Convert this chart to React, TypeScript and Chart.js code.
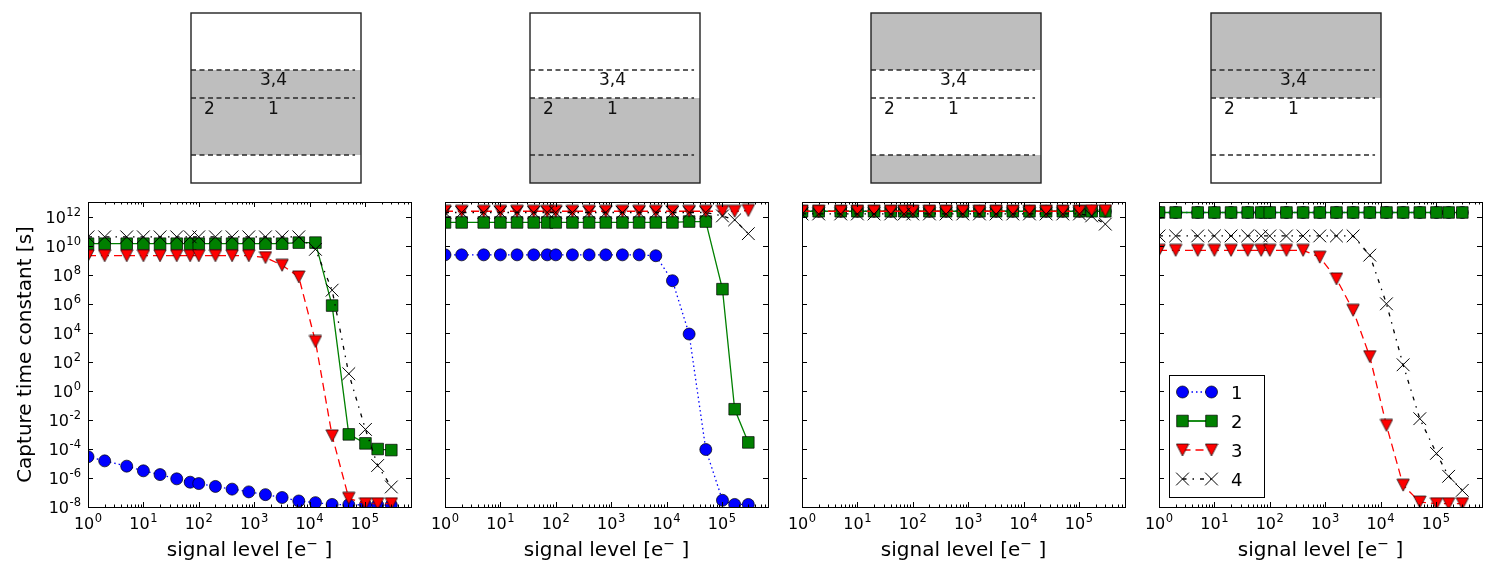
import { useEffect, useRef } from 'react';
import { Chart, registerables } from 'chart.js';
import { drawPoint } from 'chart.js/helpers';

Chart.register(...registerables);

// signal level in electrons
const signal = [1, 2, 5, 10, 20, 40, 70, 100, 200, 400, 800, 1600, 3200, 6400, 12800, 25600, 51200, 102400, 170000, 300000];

// capture time constants [s], panel A
const trap1A = [2.9e-5, 1.5e-5, 6.5e-6, 3.1e-6, 1.7e-6, 8.7e-7, 5.1e-7, 4.1e-7, 2.6e-7, 1.7e-7, 1.1e-7, 7.1e-8, 4.5e-8, 2.6e-8, 2.0e-8, 1.5e-8, 1.45e-8, 1.4e-8, 1.38e-8, 1.35e-8];
const trap2A = [1.35e10, 1.35e10, 1.35e10, 1.35e10, 1.35e10, 1.35e10, 1.35e10, 1.35e10, 1.35e10, 1.35e10, 1.35e10, 1.35e10, 1.35e10, 1.6e10, 1.6e10, 7.4e5, 1e-3, 2.4e-4, 9.8e-5, 8.3e-5];
const trap3A = [2e9, 2e9, 2e9, 2e9, 2e9, 2e9, 2e9, 2e9, 2e9, 2e9, 2e9, 1.5e9, 4.4e8, 7e7, 2.5e3, 8e-4, 4e-8, 1.7e-8, 1.7e-8, 1.7e-8];
const trap4A = [4e10, 4e10, 4e10, 4e10, 4e10, 4e10, 4e10, 4e10, 4e10, 4e10, 4e10, 4e10, 4e10, 4e10, 5.5e9, 8.5e6, 15, 2.2e-3, 7.2e-6, 2.4e-7];

// panel B
const trap1B = [2.3e9, 2.3e9, 2.3e9, 2.3e9, 2.3e9, 2.3e9, 2.3e9, 2.3e9, 2.3e9, 2.3e9, 2.3e9, 2.3e9, 2.3e9, 2e9, 3.8e7, 8.1e3, 9.1e-5, 2.9e-8, 1.5e-8, 1.5e-8];
const trap2B = [3.9e11, 3.9e11, 3.9e11, 3.9e11, 3.9e11, 3.9e11, 3.9e11, 3.9e11, 3.9e11, 3.9e11, 3.9e11, 3.9e11, 3.9e11, 3.9e11, 3.9e11, 4.5e11, 4.5e11, 1e7, 5.4e-2, 2.8e-4];
const trap3B = [2.3e12, 2.3e12, 2.3e12, 2.3e12, 2.3e12, 2.3e12, 2.3e12, 2.3e12, 2.3e12, 2.3e12, 2.3e12, 2.3e12, 2.3e12, 2.3e12, 2.3e12, 2.3e12, 2.3e12, 2.3e12, 2.3e12, 2.6e12];
const trap4B = [1.9e12, 1.9e12, 1.9e12, 1.9e12, 1.9e12, 1.9e12, 1.9e12, 1.9e12, 1.9e12, 1.9e12, 1.9e12, 1.9e12, 1.9e12, 1.9e12, 1.9e12, 1.9e12, 1.9e12, 1.1e12, 5.9e11, 6.6e10];

// panel C
const trap1C = [2.3e12, 2.3e12, 2.3e12, 2.3e12, 2.3e12, 2.3e12, 2.3e12, 2.3e12, 2.3e12, 2.3e12, 2.3e12, 2.3e12, 2.3e12, 2.3e12, 2.3e12, 2.3e12, 2.3e12, 2.3e12, 2.3e12, 2.3e12];
const trap2C = [2.3e12, 2.3e12, 2.3e12, 2.3e12, 2.3e12, 2.3e12, 2.3e12, 2.3e12, 2.3e12, 2.3e12, 2.3e12, 2.3e12, 2.3e12, 2.3e12, 2.3e12, 2.3e12, 2.3e12, 2.3e12, 2.3e12, 2.3e12];
const trap3C = [2.3e12, 2.3e12, 2.3e12, 2.3e12, 2.3e12, 2.3e12, 2.3e12, 2.3e12, 2.3e12, 2.3e12, 2.3e12, 2.3e12, 2.3e12, 2.3e12, 2.3e12, 2.3e12, 2.3e12, 2.3e12, 2.5e12, 2.5e12];
const trap4C = [1.5e12, 1.5e12, 1.5e12, 1.5e12, 1.5e12, 1.5e12, 1.5e12, 1.5e12, 1.5e12, 1.5e12, 1.5e12, 1.5e12, 1.5e12, 1.5e12, 1.5e12, 1.5e12, 1.5e12, 1.5e12, 1.1e12, 3e11];

// panel D
const trap1D = [1.9e12, 1.9e12, 1.9e12, 1.9e12, 1.9e12, 1.9e12, 1.9e12, 1.9e12, 1.9e12, 1.9e12, 1.9e12, 1.9e12, 1.9e12, 1.9e12, 1.9e12, 1.9e12, 1.9e12, 1.9e12, 1.9e12, 1.9e12];
const trap2D = [1.9e12, 1.9e12, 1.9e12, 1.9e12, 1.9e12, 1.9e12, 1.9e12, 1.9e12, 1.9e12, 1.9e12, 1.9e12, 1.9e12, 1.9e12, 1.9e12, 1.9e12, 1.9e12, 1.9e12, 1.9e12, 1.9e12, 1.9e12];
const trap3D = [4.7e9, 4.7e9, 4.7e9, 4.7e9, 4.7e9, 4.7e9, 4.7e9, 4.7e9, 4.7e9, 4.7e9, 1.6e9, 5.1e7, 3.5e5, 2.3e2, 4.2e-3, 3.2e-7, 2.2e-8, 1.7e-8, 1.7e-8, 1.7e-8];
const trap4D = [4.6e10, 4.6e10, 4.6e10, 4.6e10, 4.6e10, 4.6e10, 4.6e10, 4.6e10, 4.6e10, 4.6e10, 4.6e10, 4.6e10, 4.6e10, 2.2e9, 9.8e5, 62, 1.2e-2, 4.9e-5, 1.3e-6, 1.4e-7];

const xTickExps = [0, 1, 2, 3, 4, 5];
const yTickExps = [-8, -6, -4, -2, 0, 2, 4, 6, 8, 10, 12];
const legendLabels = ['1', '2', '3', '4'];

// schematic of the pixel: dashed interfaces, shaded regions, trap labels
const interfaceLevels = [0.665, 0.5, 0.165];
const shadedA = [[0.165, 0.665]];
const shadedB = [[0, 0.5]];
const shadedC = [[0.665, 1], [0, 0.165]];
const shadedD = [[0.5, 1]];
const layerNames = ['3,4', '2', '1'];
const layerNameX = [0.485, 0.108, 0.485];
const layerNameY = [0.612, 0.441, 0.441];

const X_MIN = 1;
const X_MAX = 6.8e5;
const Y_MIN = 1e-8;
const Y_MAX = 1e13;

const FONT = '"DejaVu Sans", sans-serif';

const panels = [
  { plotLeft: 88, boxLeft: 191, traps: [trap1A, trap2A, trap3A, trap4A], shaded: shadedA },
  { plotLeft: 445, boxLeft: 530, traps: [trap1B, trap2B, trap3B, trap4B], shaded: shadedB },
  { plotLeft: 802, boxLeft: 871, traps: [trap1C, trap2C, trap3C, trap4C], shaded: shadedC },
  { plotLeft: 1159, boxLeft: 1211, traps: [trap1D, trap2D, trap3D, trap4D], shaded: shadedD },
];

const seriesStyle = [
  { color: '#0000ff', dash: [1.5, 3], pointStyle: 'circle', radius: 6, fill: '#0000ff', edge: 0.7 },
  { color: '#008000', dash: [], pointStyle: 'rect', radius: 8.2, fill: '#008000', edge: 0.7 },
  { color: '#ff0000', dash: [8, 5], pointStyle: 'triangleDown', radius: 6, fill: '#ff0000', edge: 0.7 },
  { color: '#000000', dash: [4, 6, 1.5, 6], pointStyle: 'crossRot', radius: 9, fill: 'rgba(0,0,0,0)', edge: 1 },
];

let triangleImg: HTMLCanvasElement | null = null;
function triangleDown() {
  if (triangleImg) return triangleImg;
  const c = document.createElement('canvas');
  c.width = 14;
  c.height = 14;
  const g = c.getContext('2d')!;
  g.beginPath();
  g.moveTo(0.8, 1);
  g.lineTo(13.2, 1);
  g.lineTo(7, 13);
  g.closePath();
  g.fillStyle = '#ff0000';
  g.fill();
  g.strokeStyle = '#000';
  g.lineWidth = 0.7;
  g.stroke();
  triangleImg = c;
  return c;
}

function styleOf(s: any) {
  return s.pointStyle === 'triangleDown' ? triangleDown() : s.pointStyle;
}

function drawPow(ctx: CanvasRenderingContext2D, exp: number, x: number, baseY: number, align: 'center' | 'right') {
  const base = '10';
  const sup = String(exp);
  ctx.font = `16px ${FONT}`;
  const wb = ctx.measureText(base).width;
  ctx.font = `11.5px ${FONT}`;
  const ws = ctx.measureText(sup).width;
  const total = wb + ws + 0.5;
  const left = align === 'center' ? x - total / 2 : x - total;
  ctx.textAlign = 'left';
  ctx.textBaseline = 'alphabetic';
  ctx.fillStyle = '#000';
  ctx.font = `16px ${FONT}`;
  ctx.fillText(base, left, baseY);
  ctx.font = `11.5px ${FONT}`;
  ctx.fillText(sup, left + wb + 0.5, baseY - 7);
}

function axesPlugin(showYLabels: boolean, showLegend: boolean) {
  return {
    id: 'mplAxes',
    afterDraw(chart: any) {
      const { ctx, chartArea: ca, scales } = chart;
      const xs = scales.x;
      const ys = scales.y;
      ctx.save();
      ctx.strokeStyle = '#000';
      ctx.lineWidth = 1;
      ctx.beginPath();
      for (const e of xTickExps) {
        const px = Math.round(xs.getPixelForValue(10 ** e)) + 0.5;
        ctx.moveTo(px, ca.bottom);
        ctx.lineTo(px, ca.bottom - 5);
        ctx.moveTo(px, ca.top);
        ctx.lineTo(px, ca.top + 5);
        for (let m = 2; m <= 9; m++) {
          const v = m * 10 ** e;
          if (v >= X_MAX) continue;
          const mx = Math.round(xs.getPixelForValue(v)) + 0.5;
          ctx.moveTo(mx, ca.bottom);
          ctx.lineTo(mx, ca.bottom - 2.5);
          ctx.moveTo(mx, ca.top);
          ctx.lineTo(mx, ca.top + 2.5);
        }
      }
      for (const e of yTickExps) {
        const py = Math.round(ys.getPixelForValue(10 ** e)) + 0.5;
        ctx.moveTo(ca.left, py);
        ctx.lineTo(ca.left + 5, py);
        ctx.moveTo(ca.right, py);
        ctx.lineTo(ca.right - 5, py);
      }
      ctx.stroke();
      ctx.strokeRect(ca.left + 0.5, ca.top + 0.5, ca.width, ca.height);

      for (const e of xTickExps) {
        drawPow(ctx, e, xs.getPixelForValue(10 ** e), ca.bottom + 21.5, 'center');
      }
      if (showYLabels) {
        for (const e of yTickExps) {
          drawPow(ctx, e, ca.left - 7, ys.getPixelForValue(10 ** e) + 6, 'right');
        }
        ctx.save();
        ctx.translate(ca.left - 62, (ca.top + ca.bottom) / 2);
        ctx.rotate(-Math.PI / 2);
        ctx.font = `20px ${FONT}`;
        ctx.textAlign = 'center';
        ctx.textBaseline = 'middle';
        ctx.fillText('Capture time constant [s]', 0, 0);
        ctx.restore();
      }

      // x axis title with a superscript minus
      const t1 = 'signal level [e';
      const t2 = '\u2212';
      const t3 = ' ]';
      ctx.font = `20px ${FONT}`;
      const w1 = ctx.measureText(t1).width;
      const w3 = ctx.measureText(t3).width;
      ctx.font = `14px ${FONT}`;
      const w2 = ctx.measureText(t2).width;
      const cx = (ca.left + ca.right) / 2;
      const x0 = cx - (w1 + w2 + w3) / 2;
      const by = ca.bottom + 49;
      ctx.textAlign = 'left';
      ctx.textBaseline = 'alphabetic';
      ctx.font = `20px ${FONT}`;
      ctx.fillText(t1, x0, by);
      ctx.fillText(t3, x0 + w1 + w2, by);
      ctx.font = `14px ${FONT}`;
      ctx.fillText(t2, x0 + w1, by - 8);

      if (showLegend) {
        const w = 95;
        const h = 122;
        const lx = ca.left + 10;
        const ly = ca.bottom - 10 - h;
        ctx.fillStyle = '#fff';
        ctx.fillRect(lx, ly, w, h);
        ctx.strokeStyle = '#000';
        ctx.lineWidth = 1;
        ctx.strokeRect(lx + 0.5, ly + 0.5, w, h);
        seriesStyle.forEach((s, i) => {
          const y = ly + 17 + i * 29;
          const xa = lx + 13.5;
          const xb = lx + 42.5;
          ctx.save();
          ctx.setLineDash(s.dash);
          ctx.strokeStyle = s.color;
          ctx.lineWidth = i === 1 ? 1.8 : 1.3;
          ctx.beginPath();
          ctx.moveTo(xa, y);
          ctx.lineTo(xb, y);
          ctx.stroke();
          ctx.restore();
          for (const mx of [xa, xb]) {
            ctx.fillStyle = s.fill;
            ctx.strokeStyle = '#000';
            ctx.lineWidth = s.edge;
            drawPoint(ctx, { pointStyle: styleOf(s), radius: s.radius, rotation: 0, borderWidth: s.edge } as any, mx, y);
          }
          ctx.fillStyle = '#000';
          ctx.font = `18px ${FONT}`;
          ctx.textAlign = 'left';
          ctx.textBaseline = 'alphabetic';
          ctx.fillText(legendLabels[i], lx + 62, y + 6.5);
        });
      }
      ctx.restore();
    },
  };
}

function PlotPanel({ index }: { index: number }) {
  const canvasRef = useRef<HTMLCanvasElement>(null);
  const p = panels[index];

  useEffect(() => {
    const canvas = canvasRef.current;
    if (!canvas) return;

    const datasets = p.traps.map((values, i) => {
      const s = seriesStyle[i];
      return {
        label: legendLabels[i],
        data: signal.map((x, k) => ({ x, y: values[k] })),
        borderColor: s.color,
        borderWidth: 1.3,
        borderDash: s.dash,
        pointStyle: styleOf(s),
        pointRadius: s.radius,
        pointBackgroundColor: s.fill,
        pointBorderColor: '#000',
        pointBorderWidth: s.edge,
        fill: false,
        tension: 0,
        clip: 0,
        order: 4 - i,
      };
    });

    const chart = new Chart(canvas, {
      type: 'line',
      data: { datasets } as any,
      options: {
        responsive: false,
        animation: false,
        events: [],
        layout: { padding: { left: 88, top: 12, right: 14, bottom: 77 } },
        scales: {
          x: { type: 'logarithmic', min: X_MIN, max: X_MAX, display: false },
          y: { type: 'logarithmic', min: Y_MIN, max: Y_MAX, display: false },
        },
        plugins: { legend: { display: false }, tooltip: { enabled: false } },
      },
      plugins: [axesPlugin(index === 0, index === 3)],
    } as any);

    return () => chart.destroy();
  }, [index]);

  return (
    <canvas
      ref={canvasRef}
      width={425}
      height={394}
      style={{ position: 'absolute', left: p.plotLeft - 88, top: 190, width: 425, height: 394 }}
    />
  );
}

const schematicPlugin = {
  id: 'schematic',
  afterDraw(chart: any) {
    const { ctx, chartArea: ca, scales } = chart;
    ctx.save();
    ctx.strokeStyle = '#222';
    ctx.lineWidth = 1.4;
    ctx.strokeRect(ca.left, ca.top, ca.width, ca.height);
    ctx.fillStyle = '#111';
    ctx.font = `17px ${FONT}`;
    ctx.textAlign = 'center';
    ctx.textBaseline = 'alphabetic';
    layerNames.forEach((name, i) => {
      ctx.fillText(name, scales.x.getPixelForValue(layerNameX[i]), scales.y.getPixelForValue(layerNameY[i]) + 6.2);
    });
    ctx.restore();
  },
};

function Schematic({ index }: { index: number }) {
  const canvasRef = useRef<HTMLCanvasElement>(null);
  const p = panels[index];

  useEffect(() => {
    const canvas = canvasRef.current;
    if (!canvas) return;

    const bands = p.shaded.map(([lo, hi]) => ({
      data: [{ x: 0, y: hi }, { x: 1, y: hi }],
      borderWidth: 0,
      pointRadius: 0,
      backgroundColor: '#bebebe',
      fill: { value: lo },
      order: 2,
    }));
    const lines = interfaceLevels.map((lvl) => ({
      data: [{ x: 0, y: lvl }, { x: 0.965, y: lvl }],
      borderColor: '#2a2a2a',
      borderWidth: 1.6,
      borderDash: [5, 3.5],
      pointRadius: 0,
      fill: false,
      order: 1,
    }));

    const chart = new Chart(canvas, {
      type: 'line',
      data: { datasets: [...bands, ...lines] } as any,
      options: {
        responsive: false,
        animation: false,
        events: [],
        layout: { padding: 5 },
        scales: {
          x: { type: 'linear', min: 0, max: 1, display: false },
          y: { type: 'linear', min: 0, max: 1, display: false },
        },
        plugins: { legend: { display: false }, tooltip: { enabled: false } },
      },
      plugins: [schematicPlugin],
    } as any);

    return () => chart.destroy();
  }, [index]);

  return (
    <canvas
      ref={canvasRef}
      width={180}
      height={180}
      style={{ position: 'absolute', left: p.boxLeft - 5, top: 8, width: 180, height: 180 }}
    />
  );
}

export default function App() {
  return (
    <div style={{ position: 'absolute', left: 0, top: 0, width: 1500, height: 584, background: '#fff', overflow: 'hidden' }}>
      {panels.map((_, i) => (
        <Schematic key={`s${i}`} index={i} />
      ))}
      {panels.map((_, i) => (
        <PlotPanel key={`p${i}`} index={i} />
      ))}
    </div>
  );
}
